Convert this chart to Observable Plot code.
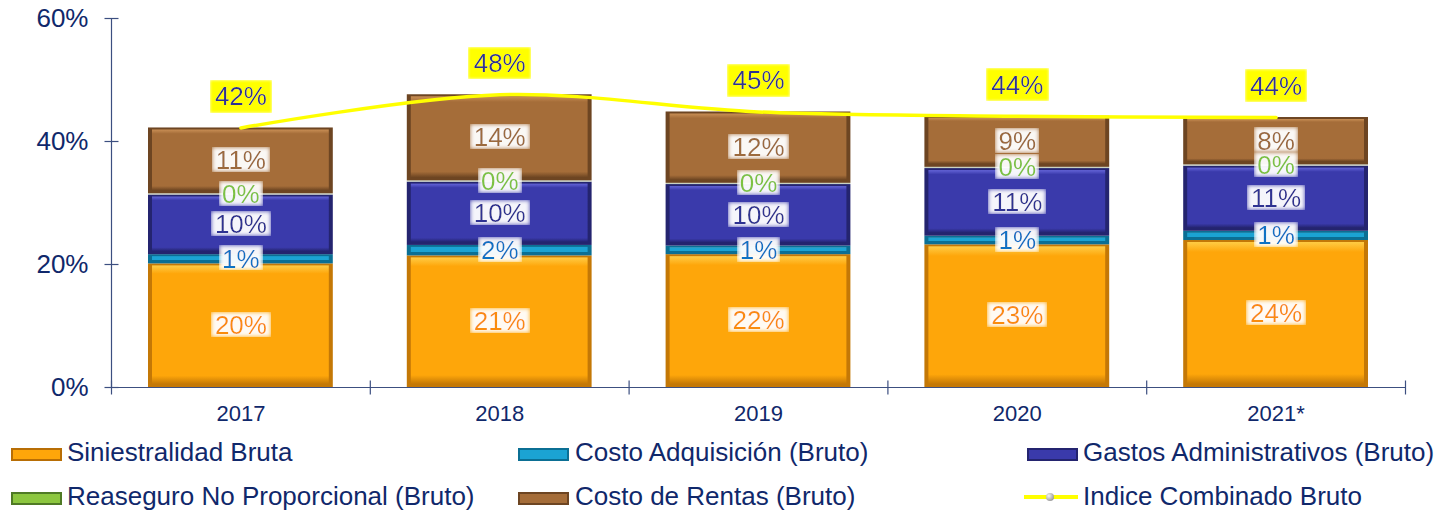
<!DOCTYPE html>
<html>
<head>
<meta charset="utf-8">
<script src="https://cdn.jsdelivr.net/npm/d3@7"></script>
<script src="https://cdn.jsdelivr.net/npm/@observablehq/plot@0.6"></script>
<style>
  html, body { margin: 0; padding: 0; background: #fff; }
  #wrap { position: relative; width: 1450px; height: 512px; font-family: "Liberation Sans", Arial, sans-serif; overflow: hidden; }
  #chart { position: absolute; left: 0; top: 0; }
  .lg { position: absolute; font-size: 26px; line-height: 30px; color: #10286b; white-space: nowrap; }
  .sw { position: absolute; width: 47px; height: 9px; border: 2px solid; }
</style>
</head>
<body>
<div id="wrap">
  <div id="chart"></div>
  <div id="legend"></div>
</div>
<script>
// ---- data ----
const years = ["2017", "2018", "2019", "2020", "2021*"];
const seriesNames = [
  "Siniestralidad Bruta",
  "Costo Adquisición (Bruto)",
  "Gastos Administrativos (Bruto)",
  "Reaseguro No Proporcional (Bruto)",
  "Costo de Rentas (Bruto)"
];
const siniestralidad = [20.1, 21.4, 21.6, 23.2, 23.9];
const costoAdquisicion = [1.5, 1.7, 1.4, 1.4, 1.5];
const gastosAdministrativos = [9.7, 10.3, 10.0, 11.0, 10.6];
const reaseguro = [0.2, 0.2, 0.2, 0.2, 0.2];
const costoRentas = [10.7, 14.0, 11.6, 8.3, 7.7];
const indiceCombinado = [42.2, 47.6, 44.8, 44.1, 43.9];

const siniestralidadLbl = ["20%", "21%", "22%", "23%", "24%"];
const costoAdquisicionLbl = ["1%", "2%", "1%", "1%", "1%"];
const gastosAdministrativosLbl = ["10%", "10%", "10%", "11%", "11%"];
const reaseguroLbl = ["0%", "0%", "0%", "0%", "0%"];
const costoRentasLbl = ["11%", "14%", "12%", "9%", "8%"];
const indiceLbl = ["42%", "48%", "45%", "44%", "44%"];

const yTicks = [0, 20, 40, 60];

// ---- styles ----
const mainColor = ["#fea60a", "#1ba3d3", "#3a3aab", "#c9d3c2", "#a56d39"];
const lightColor = ["#ffcc45", "#5cc8ec", "#6464d8", "#dfe6da", "#c98f55"];
const edgeColor = ["#c47806", "#0b6f94", "#24246f", "#c9d3c2", "#6d4522"];
const labelColor = ["#fa8c0f", "#0a72c4", "#2e3192", "#7dc242", "#9c6a3c"];
const navy = "#10286b";
const axisCol = "#3c4f80";

// ---- build table ----
const valueArrays = [siniestralidad, costoAdquisicion, gastosAdministrativos, reaseguro, costoRentas];
const labelArrays = [siniestralidadLbl, costoAdquisicionLbl, gastosAdministrativosLbl, reaseguroLbl, costoRentasLbl];
const table = years.map((y, i) => {
  const o = { i };
  seriesNames.forEach((s, k) => (o[s] = valueArrays[k][i]));
  return o;
});
const stacked = d3.stack().keys(seriesNames)(table);
const rows = [];
stacked.forEach((layer, k) => {
  layer.forEach((d, i) => {
    rows.push({ i, k, series: seriesNames[k], value: valueArrays[k][i], y1: d[0], y2: d[1], label: labelArrays[k][i] });
  });
});
const lineData = years.map((y, i) => ({ i, v: indiceCombinado[i], label: indiceLbl[i] }));

const hTick = { draw(ctx) { ctx.moveTo(-7, 0); ctx.lineTo(7, 0); } };
const vTick = { draw(ctx) { ctx.moveTo(0, -7); ctx.lineTo(0, 7); } };

const chart = Plot.plot({
  width: 1450,
  height: 430,
  marginLeft: 111,
  marginRight: 45,
  marginTop: 18,
  marginBottom: 43,
  style: { fontFamily: "Liberation Sans, Arial, sans-serif", background: "transparent" },
  x: { type: "linear", domain: [0, years.length], axis: null },
  y: { domain: [0, 60], axis: null },
  color: { type: "identity" },
  marks: [
    // bars: outer edge then inner bevelled face
    Plot.rectY(rows, { x1: "i", x2: d => d.i + 1, y1: "y1", y2: "y2", fill: d => edgeColor[d.k], insetLeft: 37, insetRight: 37 }),
    Plot.rectY(rows.filter(d => d.value > 1), { x1: "i", x2: d => d.i + 1, y1: "y1", y2: "y2", fill: d => `url(#face${d.k})`, insetLeft: 41, insetRight: 41, insetTop: 2, insetBottom: 3 }),
    // axes lines
    Plot.ruleY([0], { stroke: axisCol, strokeWidth: 1.2 }),
    Plot.ruleX([0], { stroke: axisCol, strokeWidth: 1.2 }),
    Plot.dot(yTicks, { x: 0, y: d => d, symbol: hTick, stroke: axisCol, fill: "none", strokeWidth: 1.2 }),
    Plot.dot(d3.range(years.length + 1), { x: d => d, y: 0, symbol: vTick, stroke: axisCol, fill: "none", strokeWidth: 1.2 }),
    Plot.axisY({ ticks: yTicks, tickSize: 0, tickPadding: 23, tickFormat: d => d + "%", fontSize: 26, fill: navy, label: null }),
    Plot.axisX({ ticks: years.map((y, i) => i + 0.5), tickSize: 0, tickPadding: 18, tickFormat: v => years[Math.floor(v)], fontSize: 22, fill: navy, label: null }),
    // segment labels
    Plot.text(rows, { x: d => d.i + 0.5, y: d => (d.y1 + d.y2) / 2, text: "label", fill: d => labelColor[d.k], fontSize: 26 }),
    // combined index line
    Plot.line(lineData, { x: d => d.i + 0.5, y: "v", stroke: "#ffff00", strokeWidth: 3.5, curve: "catmull-rom" }),
    Plot.text(lineData, { x: d => d.i + 0.5, y: "v", dy: -31, text: "label", fill: "#2e3192", fontSize: 26 })
  ]
});
document.getElementById("chart").appendChild(chart);

// gradients for bevelled faces and soft label boxes, as in the reference
const defs = document.createElementNS("http://www.w3.org/2000/svg", "defs");
defs.innerHTML = mainColor.map((c, k) => `
  <linearGradient id="face${k}" x1="0" y1="0" x2="0" y2="1">
    <stop offset="0" stop-color="${lightColor[k]}"/>
    <stop offset="0.07" stop-color="${c}"/>
    <stop offset="0.93" stop-color="${c}"/>
    <stop offset="1" stop-color="${edgeColor[k]}"/>
  </linearGradient>`).join("") + `
  <filter id="boxW" x="-0.07" y="0.08" width="1.14" height="0.8">
    <feFlood flood-color="#ffffff" flood-opacity="0.95" result="f"/>
    <feGaussianBlur in="f" stdDeviation="2" result="b"/>
    <feMerge><feMergeNode in="b"/><feMergeNode in="SourceGraphic"/></feMerge>
  </filter>
  <filter id="boxY" x="-0.09" y="-0.03" width="1.18" height="1.06">
    <feFlood flood-color="#ffff00" result="f"/>
    <feGaussianBlur in="f" stdDeviation="1.5" result="b"/>
    <feMerge><feMergeNode in="b"/><feMergeNode in="SourceGraphic"/></feMerge>
  </filter>`;
chart.insertBefore(defs, chart.firstChild);
const textGroups = chart.querySelectorAll('g[aria-label="text"]');
if (textGroups[0]) textGroups[0].querySelectorAll("text").forEach(t => t.setAttribute("filter", "url(#boxW)"));
if (textGroups[1]) textGroups[1].querySelectorAll("text").forEach(t => t.setAttribute("filter", "url(#boxY)"));

// ---- legend ----
const legend = document.getElementById("legend");
const legendItems = [
  { name: seriesNames[0], k: 0, sx: 11, tx: 67, cy: 452 },
  { name: seriesNames[1], k: 1, sx: 518, tx: 575, cy: 452 },
  { name: seriesNames[2], k: 2, sx: 1027, tx: 1083, cy: 452 },
  { name: seriesNames[3], k: 3, sx: 11, tx: 67, cy: 496 },
  { name: seriesNames[4], k: 4, sx: 518, tx: 575, cy: 496 },
  { name: "Indice Combinado Bruto", k: -1, sx: 1024, tx: 1083, cy: 496 }
];
const legendSwatch = ["#fea60a", "#1ba3d3", "#3a3aab", "#8cc63f", "#a56d39"];
const legendEdge = ["#b86e05", "#0b6f94", "#24246f", "#4f7a25", "#6d4522"];
legendItems.forEach(it => {
  if (it.k >= 0) {
    const sw = document.createElement("div");
    sw.className = "sw";
    sw.style.left = it.sx + "px";
    sw.style.top = (it.cy - 4) + "px";
    sw.style.background = legendSwatch[it.k];
    sw.style.borderColor = legendEdge[it.k];
    legend.appendChild(sw);
  } else {
    const ln = document.createElement("div");
    ln.style.cssText = `position:absolute;left:${it.sx}px;top:${it.cy - 1}px;width:54px;height:4px;background:#ffff00;`;
    legend.appendChild(ln);
    const dot = document.createElement("div");
    dot.style.cssText = `position:absolute;left:${it.sx + 22}px;top:${it.cy - 3}px;width:8px;height:8px;border-radius:50%;background:radial-gradient(circle at 35% 35%, #f4f4f4, #7a7a7a);`;
    legend.appendChild(dot);
  }
  const t = document.createElement("div");
  t.className = "lg";
  t.style.left = it.tx + "px";
  t.style.top = (it.cy - 15) + "px";
  t.textContent = it.name;
  legend.appendChild(t);
});
</script>
</body>
</html>
